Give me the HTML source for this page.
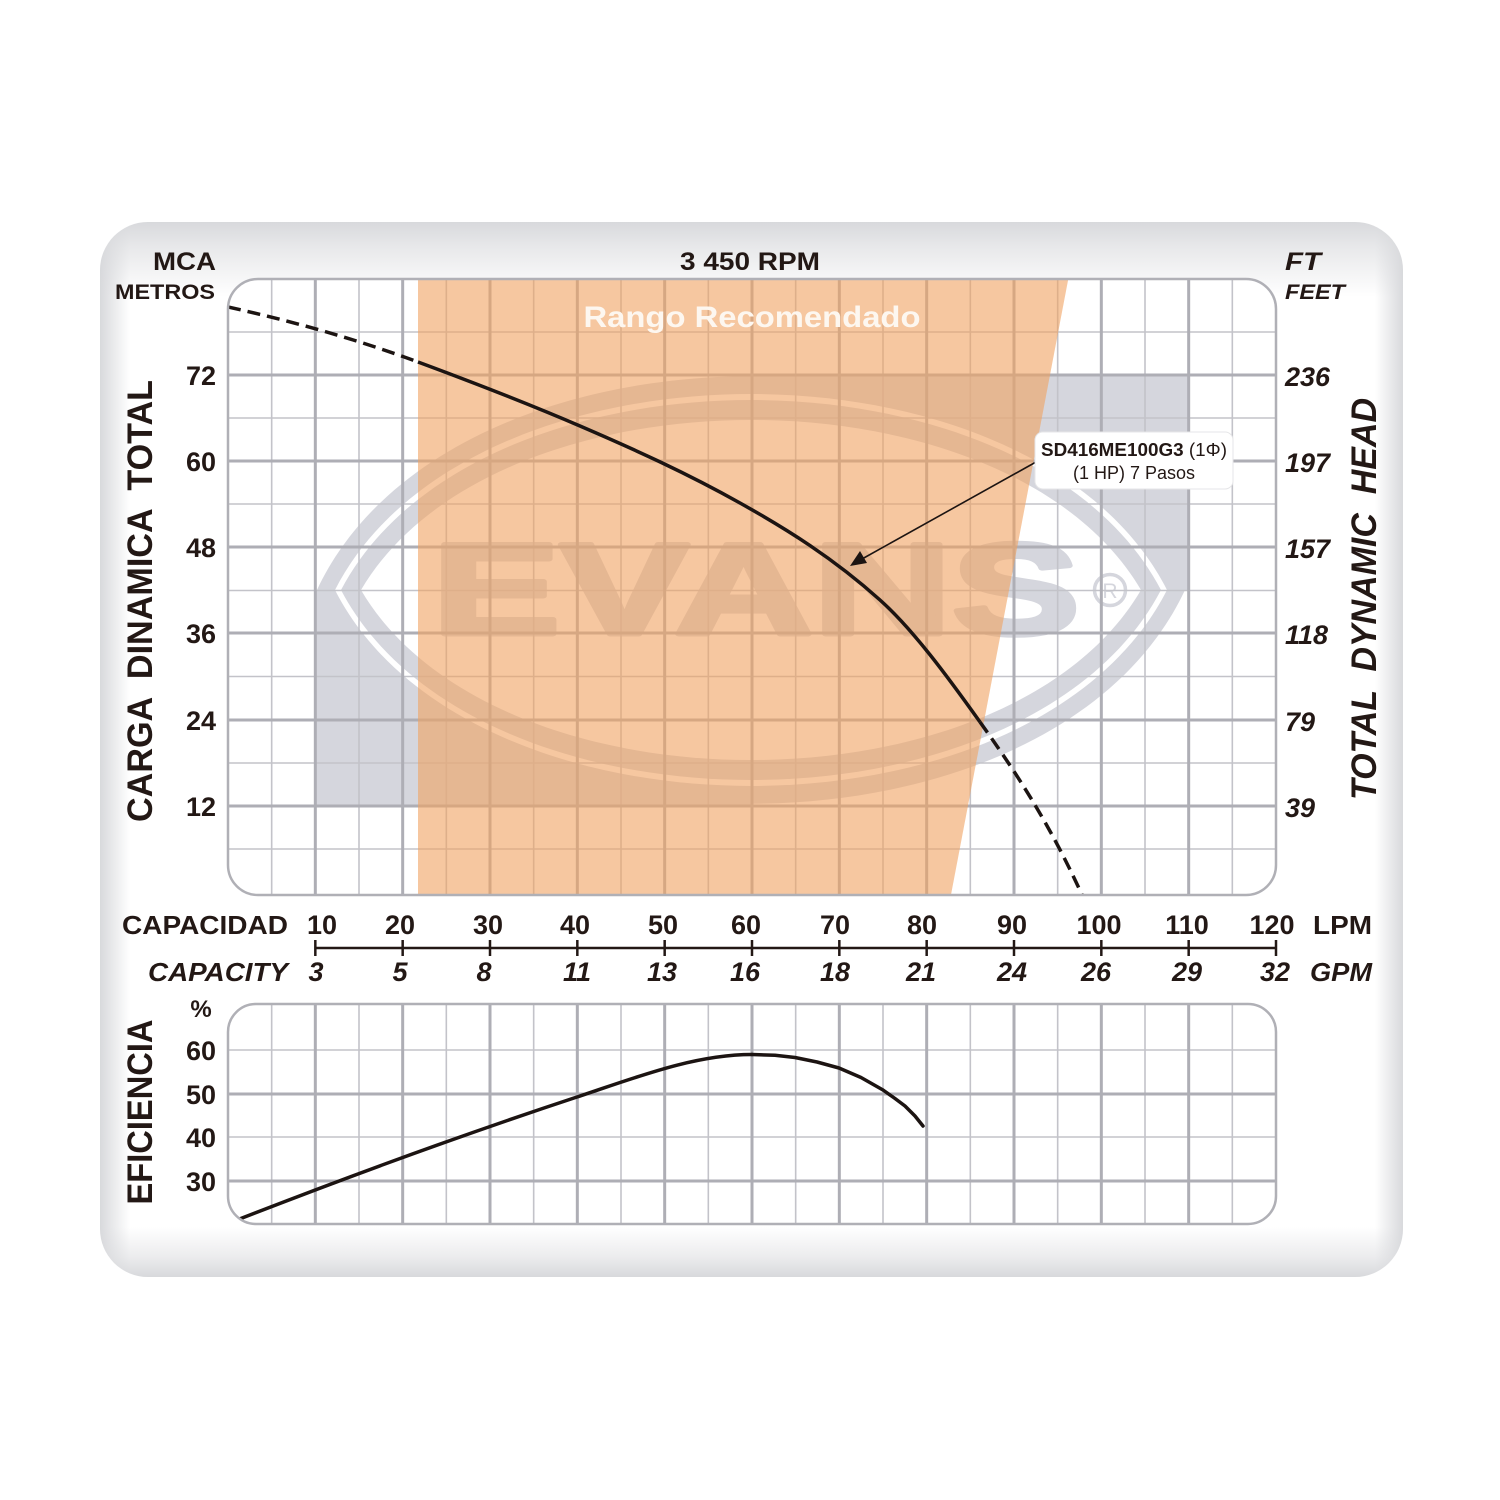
<!DOCTYPE html>
<html>
<head>
<meta charset="utf-8">
<style>
  html,body{margin:0;padding:0;background:#ffffff;}
  body{width:1500px;height:1500px;position:relative;overflow:hidden;}
  .panel{position:absolute;left:100px;top:222px;width:1303px;height:1055px;border-radius:48px;
    background:
      linear-gradient(to bottom, #d8d9dc 0px, rgba(216,217,220,0.6) 25px, rgba(216,217,220,0) 75px),
      linear-gradient(to top, #d8d9dc 0px, rgba(216,217,220,0.5) 20px, rgba(216,217,220,0) 50px),
      linear-gradient(to right, #d8d9dc 0px, rgba(216,217,220,0) 30px),
      linear-gradient(to left, #d8d9dc 0px, rgba(216,217,220,0) 28px),
      #ffffff;}
  svg{position:absolute;left:0;top:0;}
  text{font-family:"Liberation Sans",Arial,sans-serif;fill:#231815;}
</style>
</head>
<body>
<div class="panel"></div>
<svg width="1500" height="1500" viewBox="0 0 1500 1500" xmlns="http://www.w3.org/2000/svg">
  <defs>
    <clipPath id="cMain"><rect x="228" y="279" width="1048" height="616" rx="30" ry="30"/></clipPath>
    <clipPath id="cEff"><rect x="228" y="1004" width="1048" height="220" rx="28" ry="28"/></clipPath>
  </defs>

  <!-- ============ MAIN CHART ============ -->
  <rect x="228" y="279" width="1048" height="616" rx="30" ry="30" fill="#ffffff"/>
  <g clip-path="url(#cMain)">
    <!-- watermark logo -->
    <rect x="315" y="375" width="874" height="431" fill="#d5d6dd"/>
    <path d="M 300 370 L 751 370 L 751 376.25 C 567.25 376.25 383.5 447.5 317 590 L 300 590 Z" fill="#ffffff"/>
    <path d="M 751 810 L 1200 810 L 1200 590 L 1185 590 C 1118.5 732.5 934.75 803.75 751 803.75 Z" fill="#ffffff"/>
    <path d="M 335 590 C 468 328.7 1034 328.7 1167 590 C 1034 851.3 468 851.3 335 590 Z" fill="#ffffff"/>
    <path d="M 341 590 C 474 336.7 1028 336.7 1161 590 C 1028 843.3 474 843.3 341 590 Z" fill="#d5d6dd"/>
    <path d="M 361 590 C 494 363.3 1008 363.3 1141 590 C 1008 816.7 494 816.7 361 590 Z" fill="#ffffff"/>
    <text x="432" y="634" font-size="130" font-weight="bold" textLength="648" lengthAdjust="spacingAndGlyphs" style="fill:#d5d6dd;stroke:#d5d6dd;stroke-width:5;stroke-linejoin:round">EVANS</text>
    <circle cx="1110" cy="590" r="15.5" fill="none" stroke="#d5d6dd" stroke-width="3.5"/>
    <text x="1110" y="598" font-size="21" text-anchor="middle" style="fill:#d5d6dd">R</text>

    <!-- grid: minor -->
    <g stroke="#c3c3c9" stroke-width="1.6">
      <line x1="271.67" y1="279" x2="271.67" y2="895"/>
      <line x1="359" y1="279" x2="359" y2="895"/>
      <line x1="446.33" y1="279" x2="446.33" y2="895"/>
      <line x1="533.67" y1="279" x2="533.67" y2="895"/>
      <line x1="621" y1="279" x2="621" y2="895"/>
      <line x1="708.33" y1="279" x2="708.33" y2="895"/>
      <line x1="795.67" y1="279" x2="795.67" y2="895"/>
      <line x1="883" y1="279" x2="883" y2="895"/>
      <line x1="970.33" y1="279" x2="970.33" y2="895"/>
      <line x1="1057.67" y1="279" x2="1057.67" y2="895"/>
      <line x1="1145" y1="279" x2="1145" y2="895"/>
      <line x1="1232.33" y1="279" x2="1232.33" y2="895"/>
      <line x1="228" y1="332" x2="1276" y2="332"/>
      <line x1="228" y1="418" x2="1276" y2="418"/>
      <line x1="228" y1="504" x2="1276" y2="504"/>
      <line x1="228" y1="590.5" x2="1276" y2="590.5"/>
      <line x1="228" y1="676.5" x2="1276" y2="676.5"/>
      <line x1="228" y1="763" x2="1276" y2="763"/>
      <line x1="228" y1="849" x2="1276" y2="849"/>
    </g>
    <g stroke="#aeaeb5" stroke-width="3">
      <line x1="315.33" y1="279" x2="315.33" y2="895"/>
      <line x1="402.67" y1="279" x2="402.67" y2="895"/>
      <line x1="490" y1="279" x2="490" y2="895"/>
      <line x1="577.33" y1="279" x2="577.33" y2="895"/>
      <line x1="664.67" y1="279" x2="664.67" y2="895"/>
      <line x1="752" y1="279" x2="752" y2="895"/>
      <line x1="839.33" y1="279" x2="839.33" y2="895"/>
      <line x1="926.67" y1="279" x2="926.67" y2="895"/>
      <line x1="1014" y1="279" x2="1014" y2="895"/>
      <line x1="1101.33" y1="279" x2="1101.33" y2="895"/>
      <line x1="1188.67" y1="279" x2="1188.67" y2="895"/>
      <line x1="228" y1="375" x2="1276" y2="375"/>
      <line x1="228" y1="461" x2="1276" y2="461"/>
      <line x1="228" y1="547" x2="1276" y2="547"/>
      <line x1="228" y1="633" x2="1276" y2="633"/>
      <line x1="228" y1="720" x2="1276" y2="720"/>
      <line x1="228" y1="806" x2="1276" y2="806"/>
    </g>

    <!-- recommended range (orange) -->
    <polygon points="418,270 1070,270 950,900 418,900" fill="rgb(240,162,97)" fill-opacity="0.6"/>
    <text x="752" y="327" font-size="30" font-weight="bold" text-anchor="middle" textLength="337" lengthAdjust="spacingAndGlyphs" style="fill:#fdf7f0">Rango Recomendado</text>

    <!-- head curve -->
    <path d="M 228 307 C 291.3 320.9 354.7 338.6 418 362" fill="none" stroke="#1c1412" stroke-width="3.5" stroke-dasharray="13 7"/>
    <path d="M 418 362 C 472 382 526 402.8 580 426 C 633.3 448.9 686.7 473.1 740 503 C 786.7 529.1 833.3 558 880 600 C 913.3 630 946.7 675.3 980 722" fill="none" stroke="#1c1412" stroke-width="3.5" stroke-linejoin="round"/>
    <path d="M 980 722 C 1014.3 770 1048.7 821.5 1083 897" fill="none" stroke="#1c1412" stroke-width="3.5" stroke-dasharray="13 7"/>

    <!-- callout -->
    <line x1="1036" y1="462" x2="862" y2="559" stroke="#1c1412" stroke-width="1.6"/>
    <polygon points="850,566 860,551 867,563" fill="#1c1412"/>
    <rect x="1035" y="432" width="198" height="57" rx="8" ry="8" fill="#ffffff" stroke="#e6e6e8" stroke-width="1"/>
    <text x="1134" y="456" font-size="18" text-anchor="middle" textLength="186" lengthAdjust="spacingAndGlyphs"><tspan font-weight="bold">SD416ME100G3</tspan> (1Φ)</text>
    <text x="1134" y="479" font-size="18" text-anchor="middle">(1 HP) 7 Pasos</text>
  </g>
  <rect x="228" y="279" width="1048" height="616" rx="30" ry="30" fill="none" stroke="#b0b0b6" stroke-width="2.5"/>

  <!-- top labels -->
  <text x="216" y="270" font-size="25" font-weight="bold" text-anchor="end" textLength="63" lengthAdjust="spacingAndGlyphs">MCA</text>
  <text x="215" y="299" font-size="21" font-weight="bold" text-anchor="end" textLength="100" lengthAdjust="spacingAndGlyphs">METROS</text>
  <text x="750" y="270" font-size="25" font-weight="bold" text-anchor="middle" textLength="140" lengthAdjust="spacingAndGlyphs">3 450 RPM</text>
  <text x="1285" y="270" font-size="25" font-weight="bold" font-style="italic" textLength="36" lengthAdjust="spacingAndGlyphs">FT</text>
  <text x="1285" y="299" font-size="21" font-weight="bold" font-style="italic" textLength="60" lengthAdjust="spacingAndGlyphs">FEET</text>

  <!-- left tick labels -->
  <g font-size="27" font-weight="bold" text-anchor="end">
    <text x="216" y="385">72</text>
    <text x="216" y="471">60</text>
    <text x="216" y="557">48</text>
    <text x="216" y="643">36</text>
    <text x="216" y="730">24</text>
    <text x="216" y="816">12</text>
  </g>
  <!-- right tick labels -->
  <g font-size="27" font-weight="bold" font-style="italic">
    <text x="1285" y="386">236</text>
    <text x="1285" y="472">197</text>
    <text x="1285" y="558">157</text>
    <text x="1285" y="644">118</text>
    <text x="1285" y="731">79</text>
    <text x="1285" y="817">39</text>
  </g>

  <!-- axis titles rotated -->
  <text transform="translate(152,601) rotate(-90)" font-size="35" font-weight="bold" text-anchor="middle" textLength="442" lengthAdjust="spacingAndGlyphs" xml:space="preserve">CARGA  DINAMICA  TOTAL</text>
  <text transform="translate(1376,599) rotate(-90)" font-size="35" font-weight="bold" font-style="italic" text-anchor="middle" textLength="402" lengthAdjust="spacingAndGlyphs" xml:space="preserve">TOTAL  DYNAMIC  HEAD</text>

  <!-- capacity axis -->
  <text x="288" y="934" font-size="26" font-weight="bold" text-anchor="end" textLength="166" lengthAdjust="spacingAndGlyphs">CAPACIDAD</text>
  <g font-size="27" font-weight="bold" text-anchor="middle">
    <text x="322" y="934">10</text>
    <text x="400" y="934">20</text>
    <text x="488" y="934">30</text>
    <text x="575" y="934">40</text>
    <text x="663" y="934">50</text>
    <text x="746" y="934">60</text>
    <text x="835" y="934">70</text>
    <text x="922" y="934">80</text>
    <text x="1012" y="934">90</text>
    <text x="1099" y="934">100</text>
    <text x="1187" y="934">110</text>
    <text x="1272" y="934">120</text>
  </g>
  <text x="1313" y="934" font-size="26" font-weight="bold" textLength="59" lengthAdjust="spacingAndGlyphs">LPM</text>

  <g stroke="#231815" stroke-width="2.5">
    <line x1="315.33" y1="948" x2="1276" y2="948"/>
    <line x1="315.33" y1="940" x2="315.33" y2="956"/>
    <line x1="402.67" y1="940" x2="402.67" y2="956"/>
    <line x1="490" y1="940" x2="490" y2="956"/>
    <line x1="577.33" y1="940" x2="577.33" y2="956"/>
    <line x1="664.67" y1="940" x2="664.67" y2="956"/>
    <line x1="752" y1="940" x2="752" y2="956"/>
    <line x1="839.33" y1="940" x2="839.33" y2="956"/>
    <line x1="926.67" y1="940" x2="926.67" y2="956"/>
    <line x1="1014" y1="940" x2="1014" y2="956"/>
    <line x1="1101.33" y1="940" x2="1101.33" y2="956"/>
    <line x1="1188.67" y1="940" x2="1188.67" y2="956"/>
    <line x1="1276" y1="940" x2="1276" y2="956"/>
  </g>

  <text x="288" y="981" font-size="26" font-weight="bold" font-style="italic" text-anchor="end" textLength="140" lengthAdjust="spacingAndGlyphs">CAPACITY</text>
  <g font-size="27" font-weight="bold" font-style="italic" text-anchor="middle">
    <text x="316" y="981">3</text>
    <text x="400" y="981">5</text>
    <text x="484" y="981">8</text>
    <text x="577" y="981">11</text>
    <text x="662" y="981">13</text>
    <text x="745" y="981">16</text>
    <text x="835" y="981">18</text>
    <text x="921" y="981">21</text>
    <text x="1012" y="981">24</text>
    <text x="1096" y="981">26</text>
    <text x="1187" y="981">29</text>
    <text x="1275" y="981">32</text>
  </g>
  <text x="1310" y="981" font-size="26" font-weight="bold" font-style="italic" textLength="62" lengthAdjust="spacingAndGlyphs">GPM</text>

  <!-- ============ EFFICIENCY CHART ============ -->
  <rect x="228" y="1004" width="1048" height="220" rx="28" ry="28" fill="#ffffff"/>
  <g clip-path="url(#cEff)">
    <g stroke="#c3c3c9" stroke-width="1.6">
      <line x1="271.67" y1="1004" x2="271.67" y2="1224"/>
      <line x1="359" y1="1004" x2="359" y2="1224"/>
      <line x1="446.33" y1="1004" x2="446.33" y2="1224"/>
      <line x1="533.67" y1="1004" x2="533.67" y2="1224"/>
      <line x1="621" y1="1004" x2="621" y2="1224"/>
      <line x1="708.33" y1="1004" x2="708.33" y2="1224"/>
      <line x1="795.67" y1="1004" x2="795.67" y2="1224"/>
      <line x1="883" y1="1004" x2="883" y2="1224"/>
      <line x1="970.33" y1="1004" x2="970.33" y2="1224"/>
      <line x1="1057.67" y1="1004" x2="1057.67" y2="1224"/>
      <line x1="1145" y1="1004" x2="1145" y2="1224"/>
      <line x1="1232.33" y1="1004" x2="1232.33" y2="1224"/>
      <line x1="228" y1="1050" x2="1276" y2="1050"/>
      <line x1="228" y1="1137" x2="1276" y2="1137"/>
    </g>
    <g stroke="#aeaeb5" stroke-width="3">
      <line x1="315.33" y1="1004" x2="315.33" y2="1224"/>
      <line x1="402.67" y1="1004" x2="402.67" y2="1224"/>
      <line x1="490" y1="1004" x2="490" y2="1224"/>
      <line x1="577.33" y1="1004" x2="577.33" y2="1224"/>
      <line x1="664.67" y1="1004" x2="664.67" y2="1224"/>
      <line x1="752" y1="1004" x2="752" y2="1224"/>
      <line x1="839.33" y1="1004" x2="839.33" y2="1224"/>
      <line x1="926.67" y1="1004" x2="926.67" y2="1224"/>
      <line x1="1014" y1="1004" x2="1014" y2="1224"/>
      <line x1="1101.33" y1="1004" x2="1101.33" y2="1224"/>
      <line x1="1188.67" y1="1004" x2="1188.67" y2="1224"/>
      <line x1="228" y1="1094" x2="1276" y2="1094"/>
      <line x1="228" y1="1181" x2="1276" y2="1181"/>
    </g>
    <path d="M 237 1220 C 350.3 1175.8 463.7 1134.4 577 1097 C 635.3 1077.7 693.7 1054.5 752 1054.5" fill="none" stroke="#1c1412" stroke-width="3.5" stroke-linecap="round"/>
    <polyline points="752,1054.5 775,1055.3 795,1057.5 817,1062 839,1068 861,1077.5 883,1090 895,1098.5 905,1106 915,1116 923,1126" fill="none" stroke="#1c1412" stroke-width="3.5" stroke-linejoin="round" stroke-linecap="round"/>
  </g>
  <rect x="228" y="1004" width="1048" height="220" rx="28" ry="28" fill="none" stroke="#b0b0b6" stroke-width="2.5"/>

  <text x="201" y="1017" font-size="24" font-weight="bold" text-anchor="middle">%</text>
  <g font-size="27" font-weight="bold" text-anchor="end">
    <text x="216" y="1060">60</text>
    <text x="216" y="1104">50</text>
    <text x="216" y="1147">40</text>
    <text x="216" y="1191">30</text>
  </g>
  <text transform="translate(152,1112) rotate(-90)" font-size="35" font-weight="bold" text-anchor="middle" textLength="185" lengthAdjust="spacingAndGlyphs">EFICIENCIA</text>
</svg>
</body>
</html>
